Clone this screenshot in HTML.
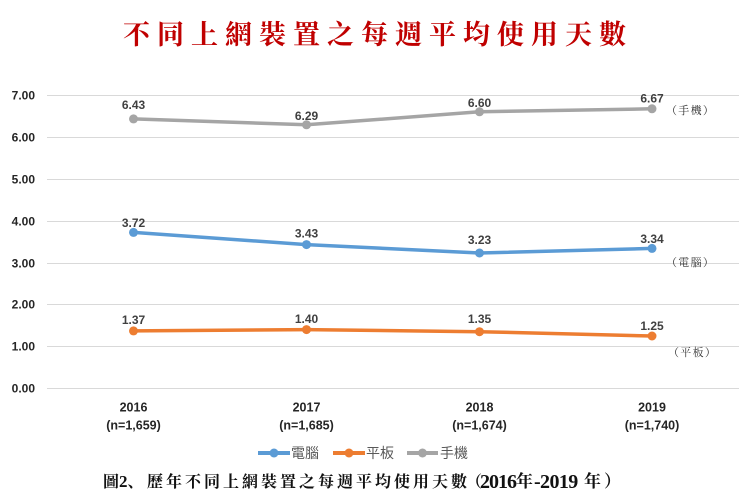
<!DOCTYPE html>
<html><head><meta charset="utf-8"><style>
html,body{margin:0;padding:0;background:#fff;}
svg{display:block;}
</style></head><body>
<svg width="745" height="501" viewBox="0 0 745 501" xmlns="http://www.w3.org/2000/svg">
<rect width="745" height="501" fill="#fff"/>
<text x="123" y="44" font-family="'Noto Serif CJK SC','Noto Serif CJK TC',serif" font-weight="bold" font-size="27" letter-spacing="7" fill="#C00000">不同上網裝置之每週平均使用天數</text>
<g stroke="#D9D9D9" stroke-width="1">
<line x1="47" y1="95.5" x2="739" y2="95.5"/>
<line x1="47" y1="137.5" x2="739" y2="137.5"/>
<line x1="47" y1="179.5" x2="739" y2="179.5"/>
<line x1="47" y1="221.5" x2="739" y2="221.5"/>
<line x1="47" y1="263.5" x2="739" y2="263.5"/>
<line x1="47" y1="304.5" x2="739" y2="304.5"/>
<line x1="47" y1="346.5" x2="739" y2="346.5"/>
<line x1="47" y1="388.5" x2="739" y2="388.5"/>
</g>
<g font-family="'Liberation Sans',sans-serif" font-weight="bold" font-size="12" fill="#262626" text-anchor="end">
<text x="35" y="99.5">7.00</text>
<text x="35" y="141.5">6.00</text>
<text x="35" y="183.5">5.00</text>
<text x="35" y="225.5">4.00</text>
<text x="35" y="267.5">3.00</text>
<text x="35" y="308.5">2.00</text>
<text x="35" y="350.5">1.00</text>
<text x="35" y="392.5">0.00</text>
</g>
<polyline points="133.5,118.9 306.5,124.8 479.5,111.8 652,108.8" fill="none" stroke="#A5A5A5" stroke-width="3.5" stroke-linejoin="round"/>
<polyline points="133.5,232.4 306.5,244.6 479.5,253 652,248.4" fill="none" stroke="#5B9BD5" stroke-width="3.5" stroke-linejoin="round"/>
<polyline points="133.5,330.9 306.5,329.6 479.5,331.7 652,336" fill="none" stroke="#ED7D31" stroke-width="3.5" stroke-linejoin="round"/>
<g fill="#A5A5A5"><circle cx="133.5" cy="118.9" r="4.5"/><circle cx="306.5" cy="124.8" r="4.5"/><circle cx="479.5" cy="111.8" r="4.5"/><circle cx="652" cy="108.8" r="4.5"/></g>
<g fill="#5B9BD5"><circle cx="133.5" cy="232.4" r="4.5"/><circle cx="306.5" cy="244.6" r="4.5"/><circle cx="479.5" cy="253" r="4.5"/><circle cx="652" cy="248.4" r="4.5"/></g>
<g fill="#ED7D31"><circle cx="133.5" cy="330.9" r="4.5"/><circle cx="306.5" cy="329.6" r="4.5"/><circle cx="479.5" cy="331.7" r="4.5"/><circle cx="652" cy="336" r="4.5"/></g>
<g font-family="'Liberation Sans',sans-serif" font-weight="bold" font-size="12" fill="#404040" text-anchor="middle">
<text x="133.5" y="109">6.43</text>
<text x="306.5" y="120">6.29</text>
<text x="479.5" y="107">6.60</text>
<text x="652" y="102.5">6.67</text>
<text x="133.5" y="227">3.72</text>
<text x="306.5" y="237.5">3.43</text>
<text x="479.5" y="244">3.23</text>
<text x="652" y="243">3.34</text>
<text x="133.5" y="324">1.37</text>
<text x="306.5" y="323">1.40</text>
<text x="479.5" y="323">1.35</text>
<text x="652" y="330">1.25</text>
</g>
<g font-family="'Noto Serif CJK SC','Noto Serif CJK TC',serif" font-size="11" fill="#333" letter-spacing="1.3">
<text x="666" y="114">（手機）</text>
<text x="666" y="266">（電腦）</text>
<text x="668" y="356">（平板）</text>
</g>
<g font-family="'Liberation Sans',sans-serif" font-weight="bold" font-size="12.5" fill="#262626" text-anchor="middle">
<text x="133.5" y="411.5">2016</text>
<text x="133.5" y="429.5">(n=1,659)</text>
<text x="306.5" y="411.5">2017</text>
<text x="306.5" y="429.5">(n=1,685)</text>
<text x="479.5" y="411.5">2018</text>
<text x="479.5" y="429.5">(n=1,674)</text>
<text x="652" y="411.5">2019</text>
<text x="652" y="429.5">(n=1,740)</text>
</g>
<line x1="258" y1="453" x2="290" y2="453" stroke="#5B9BD5" stroke-width="4"/>
<circle cx="274" cy="453" r="4.5" fill="#5B9BD5"/>
<line x1="333" y1="453" x2="365" y2="453" stroke="#ED7D31" stroke-width="4"/>
<circle cx="349" cy="453" r="4.5" fill="#ED7D31"/>
<line x1="407" y1="453" x2="438" y2="453" stroke="#A5A5A5" stroke-width="4"/>
<circle cx="422.5" cy="453" r="4.5" fill="#A5A5A5"/>
<g font-family="'Liberation Sans','Noto Sans CJK TC',sans-serif" font-size="14" fill="#595959">
<text x="291" y="458">電腦</text>
<text x="366" y="458">平板</text>
<text x="440" y="458">手機</text>
</g>
<g font-family="'Liberation Serif','Noto Serif CJK SC',serif" font-weight="bold" fill="#111">
<text y="487"><tspan x="103" font-size="16">圖</tspan><tspan font-size="17">2</tspan><tspan font-size="16" letter-spacing="3">、</tspan><tspan x="147" font-size="16" letter-spacing="3">歷年不同上網裝置之每週平均使用天數</tspan></text>
<text x="466" y="487" font-size="16">（</text>
<text x="480" y="488" font-size="20" letter-spacing="-1">2016</text>
<text x="516" y="487" font-size="17">年</text>
<text x="534" y="488" font-size="20" letter-spacing="-0.6">-2019</text>
<text x="584" y="487" font-size="17">年</text>
<text x="604" y="487" font-size="17">）</text>
</g>
</svg>
</body></html>
